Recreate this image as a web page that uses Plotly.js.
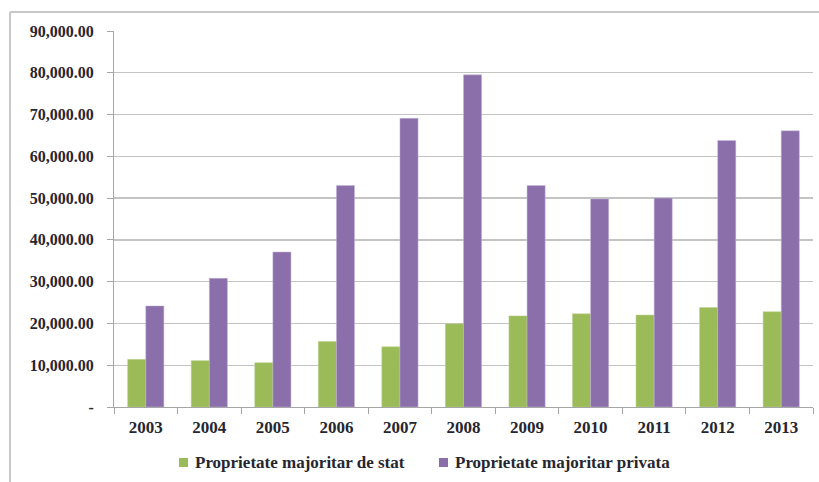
<!DOCTYPE html>
<html>
<head>
<meta charset="utf-8">
<script src="https://cdn.plot.ly/plotly-3.0.1.min.js"></script>
<style>html,body{margin:0;padding:0;background:#fff;}#chart{width:819px;height:482px;}</style>
</head>
<body>
<div id="chart"></div>
<script>
const years = ['2003','2004','2005','2006','2007','2008','2009','2010','2011','2012','2013'];
const stat = [11400, 11100, 10600, 15700, 14400, 19900, 21800, 22300, 22000, 23800, 22800];
const privata = [24200, 30800, 37100, 53000, 69100, 79500, 53000, 49800, 50000, 63800, 66100];
const seriesNames = ['Proprietate majoritar de stat', 'Proprietate majoritar privata'];
const seriesColors = ['#9BBB59', '#8A6FAB'];
const yTickVals = [0, 10000, 20000, 30000, 40000, 50000, 60000, 70000, 80000, 90000];
const yTickText = ['-', '10,000.00', '20,000.00', '30,000.00', '40,000.00', '50,000.00', '60,000.00', '70,000.00', '80,000.00', '90,000.00'];

const fontFam = '"Liberation Serif", "Times New Roman", serif';
const textCol = '#262630';

const traces = [
  {type:'bar', x: years, y: stat, name: seriesNames[0],
   marker:{color:seriesColors[0], line:{color:'#b9d08a', width:0.5}}},
  {type:'bar', x: years, y: privata, name: seriesNames[1],
   marker:{color:seriesColors[1], line:{color:'#c7b8da', width:0.5}}}
];

// manual legend (paper coordinates)
const legSq = [[0.0930, 0.1059], [0.4649, 0.4778]];
const legTx = [0.1130, 0.4850];
const shapes = [
  {type:'line', xref:'paper', yref:'paper', x0:-0.1488, x1:-0.1488, y0:1.0505, y1:-0.3, line:{color:'#c8c8c8', width:2}},
  {type:'line', xref:'paper', yref:'paper', x0:-0.1488, x1:1.05, y0:1.0505, y1:1.0505, line:{color:'#c8c8c8', width:2}}
];
const annotations = [];
seriesNames.forEach((n, i) => {
  shapes.push({type:'rect', xref:'paper', yref:'paper', x0:legSq[i][0], x1:legSq[i][1], y0:-0.1596, y1:-0.1356,
    fillcolor:seriesColors[i], line:{width:0}});
  annotations.push({xref:'paper', yref:'paper', x:legTx[i], y:-0.1476, xanchor:'left', yanchor:'middle',
    text:n, showarrow:false, font:{family:fontFam, size:17, color:textCol, weight:'bold'}});
});

const layout = {
  width: 819, height: 482,
  margin: {l:114, r:6, t:31, b:75, autoexpand:false},
  paper_bgcolor:'#fff', plot_bgcolor:'#fff',
  barmode:'group', bargap:0.43, bargroupgap:0,
  font:{family: fontFam, color: textCol},
  showlegend:false,
  xaxis:{
    type:'category', showline:true, linecolor:'#a6a6a6', linewidth:1,
    ticks:'outside', tickson:'boundaries', ticklen:6, tickcolor:'#a6a6a6',
    tickfont:{family: fontFam, size:17, color: textCol, weight:'bold'},
    ticklabelstandoff: 5, automargin:false,
    showgrid:false, fixedrange:true
  },
  yaxis:{
    range:[0, 90000], tickvals: yTickVals, ticktext: yTickText,
    showline:true, linecolor:'#a6a6a6', linewidth:1,
    ticks:'outside', ticklen:6, tickcolor:'#a6a6a6',
    showgrid:true, gridcolor:'#c4c4c4', gridwidth:1.3,
    zeroline:false, automargin:false,
    tickfont:{family: fontFam, size:16, color: textCol, weight:'bold'},
    ticklabelstandoff: 10, fixedrange:true
  },
  shapes: shapes,
  annotations: annotations
};

Plotly.newPlot('chart', traces, layout, {displayModeBar:false, staticPlot:true});
</script>
</body>
</html>
